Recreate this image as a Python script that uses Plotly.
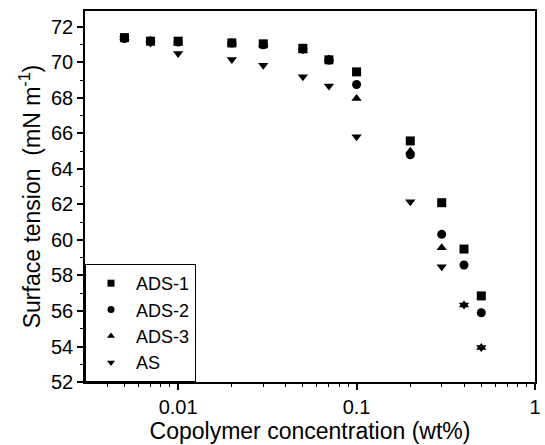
import plotly.graph_objects as go

conc = [0.005, 0.007, 0.01, 0.02, 0.03, 0.05, 0.07, 0.1, 0.2, 0.3, 0.4, 0.5]
ads1 = [71.4, 71.2, 71.2, 71.1, 71.05, 70.8, 70.15, 69.47, 65.58, 62.1, 59.49, 56.85]
ads2 = [71.35, 71.2, 71.15, 71.1, 71.0, 70.75, 70.13, 68.76, 64.8, 60.32, 58.59, 55.9]
ads3 = [71.4, 71.25, 71.1, 71.1, 71.0, 70.65, 70.2, 67.97, 65.0, 59.56, 56.34, 53.94]
as_ = [71.35, 71.1, 70.5, 70.17, 69.85, 69.19, 68.68, 65.81, 62.15, 58.49, 56.34, 53.94]

series = [("ADS-1", ads1, "square"), ("ADS-2", ads2, "circle"),
          ("ADS-3", ads3, "triangle-up"), ("AS", as_, "triangle-down")]

fig = go.Figure()
for name, ys, sym in series:
    fig.add_trace(go.Scatter(x=conc, y=ys, mode="markers", name=name, showlegend=False,
                             legendgroup=name,
                             marker=dict(symbol=sym, size=9, color="black")))
    # legend entry with the smaller legend symbol
    fig.add_trace(go.Scatter(x=[None], y=[None], mode="markers", name=name,
                             legendgroup=name,
                             marker=dict(symbol=sym, size=7, color="black")))

major_x = [0.01, 0.1, 1]
minor_x = [m * 10.0 ** e for e in (-3, -2, -1) for m in range(2, 10)]

fam = "Liberation Sans, Arial, sans-serif"
tick_font = dict(family=fam, size=20, color="black")
title_font = dict(family=fam, size=23, color="black")
leg_font = dict(family=fam, size=18, color="black")
fig.update_layout(
    width=545, height=445,
    margin=dict(l=85, r=4, t=11, b=63),
    paper_bgcolor="white", plot_bgcolor="white",
    font=tick_font,
    showlegend=True,
    legend=dict(x=0, y=0, xanchor="left", yanchor="bottom",
                bordercolor="black", borderwidth=1, bgcolor="white",
                font=leg_font, tracegroupgap=0, itemwidth=40),
)
fig.update_xaxes(type="log", range=[-2.522, 0], showgrid=False, zeroline=False,
                 showline=True, linecolor="black", linewidth=1.5, mirror=True,
                 tickvals=major_x, ticktext=["0.01", "0.1", "1"], tickfont=tick_font,
                 ticks="outside", ticklen=6, tickcolor="black", tickwidth=1.5,
                 minor=dict(tickvals=minor_x, ticks="outside", ticklen=3,
                            tickcolor="black", tickwidth=1),
                 title=dict(text="Copolymer concentration (wt%)", font=title_font, standoff=3))
fig.update_yaxes(range=[52, 72.9], showgrid=False, zeroline=False,
                 showline=True, linecolor="black", linewidth=1.5, mirror=True,
                 dtick=2, tick0=52, ticks="outside", ticklen=6, tickcolor="black", tickwidth=1.5,
                 tickfont=tick_font,
                 minor=dict(dtick=1, ticks="outside", ticklen=3, tickcolor="black", tickwidth=1),
                 title=dict(text="Surface tension  (mN m<sup>-1</sup>)", font=title_font, standoff=4))

fig.write_html("out.html")
